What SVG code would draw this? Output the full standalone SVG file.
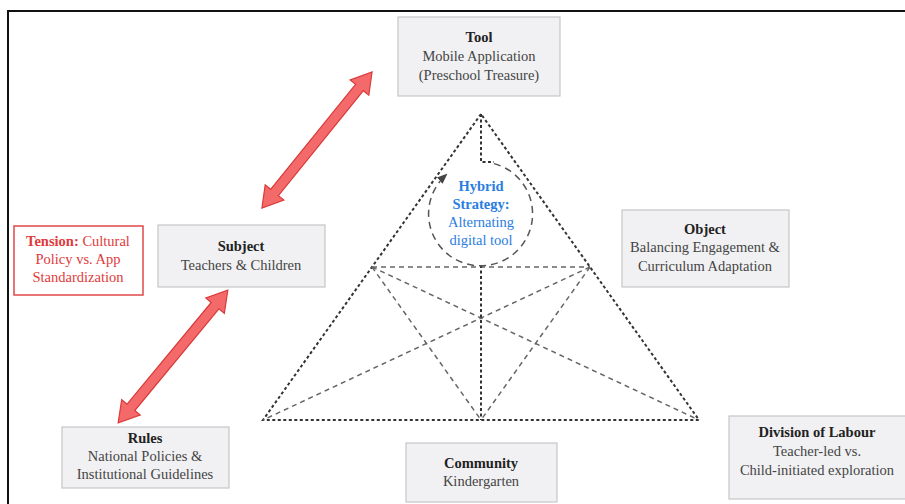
<svg xmlns="http://www.w3.org/2000/svg" width="905" height="504" viewBox="0 0 905 504">
<defs>
<style>
.box{fill:#f1f1f3;stroke:#c6c6c8;stroke-width:1.2}
.t{font-family:'Liberation Serif','DejaVu Serif',serif;font-size:14.5px;text-anchor:middle;fill:#444}
.b{font-weight:bold;fill:#222}
.red{fill:#e03a3a}
.blue{fill:#2a7de1}
.outer{fill:none;stroke:#333;stroke-width:2;stroke-dasharray:3 2.5}
.inner{fill:none;stroke:#666;stroke-width:1.5;stroke-dasharray:5 4}
.arrow{fill:#f46a6a;stroke:#d93a3a;stroke-width:1.2;stroke-linejoin:miter}
</style>
<marker id="ah" viewBox="0 0 10 10" refX="8" refY="5" markerWidth="7" markerHeight="7" orient="auto">
<path d="M0,1 L10,5 L0,9 Z" fill="#444"/>
</marker>
</defs>
<rect x="0" y="0" width="905" height="504" fill="#ffffff"/>
<rect x="8" y="11" width="910" height="510" fill="none" stroke="#111" stroke-width="2"/>

<g id="connectors">
<polygon class="outer" points="481,114 263,420 699,420"/>
<line class="inner" x1="372" y1="267" x2="590" y2="267"/>
<line class="inner" x1="372" y1="267" x2="699" y2="420"/>
<line class="inner" x1="590" y1="267" x2="263" y2="420"/>
<line class="inner" x1="372" y1="267" x2="481" y2="420"/>
<line class="inner" x1="590" y1="267" x2="481" y2="420"/>
<line class="outer" x1="481" y1="265" x2="481" y2="420" stroke="#555"/>
<polyline class="outer" points="481,114 481,162 494,162"/>
<path d="M 494 163.6 A 52 52 0 1 1 446 175" fill="none" stroke="#555" stroke-width="1.5" stroke-dasharray="7 5" marker-end="url(#ah)"/>
<polygon class="arrow" transform="translate(317,140) rotate(-51)" points="-87.5,0 -67.5,-12 -67.5,-5 67.5,-5 67.5,-12 87.5,0 67.5,12 67.5,5 -67.5,5 -67.5,12"/>
<polygon class="arrow" transform="translate(173,356.5) rotate(-50.4)" points="-86,0 -66,-12 -66,-5 66,-5 66,-12 86,0 66,12 66,5 -66,5 -66,12"/>
</g>

<g id="tool">
<rect class="box" x="398" y="17" width="162" height="79"/>
<text class="t b" x="479" y="42" font-family="Liberation Serif, serif">Tool</text>
<text class="t" x="479" y="61" font-family="Liberation Serif, serif">Mobile Application</text>
<text class="t" x="479" y="80" font-family="Liberation Serif, serif">(Preschool Treasure)</text>
</g>

<g id="hybrid" font-family="Liberation Serif, serif">
<text class="t blue" x="481" y="191" font-weight="bold">Hybrid</text>
<text class="t blue" x="481" y="209" font-weight="bold">Strategy:</text>
<text class="t blue" x="481" y="227">Alternating</text>
<text class="t blue" x="481" y="245">digital tool</text>
</g>

<g id="subject">
<rect class="box" x="158" y="225" width="167" height="62"/>
<text class="t b" x="241" y="251">Subject</text>
<text class="t" x="241" y="270">Teachers &amp; Children</text>
</g>

<g id="tension">
<rect x="14" y="226" width="129" height="69" fill="#ffffff" stroke="#e04848" stroke-width="1.5"/>
<text class="t red" x="78" y="246"><tspan font-weight="bold">Tension:</tspan> Cultural</text>
<text class="t red" x="78" y="264">Policy vs. App</text>
<text class="t red" x="78" y="282">Standardization</text>
</g>

<g id="object">
<rect class="box" x="622" y="210" width="167" height="77"/>
<text class="t b" x="705" y="234">Object</text>
<text class="t" x="705" y="252">Balancing Engagement &amp;</text>
<text class="t" x="705" y="271">Curriculum Adaptation</text>
</g>

<g id="rules">
<rect class="box" x="62" y="427" width="167" height="61"/>
<text class="t b" x="145" y="443">Rules</text>
<text class="t" x="145" y="461">National Policies &amp;</text>
<text class="t" x="145" y="479">Institutional Guidelines</text>
</g>

<g id="community">
<rect class="box" x="406" y="443" width="151" height="59"/>
<text class="t b" x="481" y="468">Community</text>
<text class="t" x="481" y="486">Kindergarten</text>
</g>

<g id="division">
<rect class="box" x="729" y="416" width="178" height="83"/>
<text class="t b" x="817" y="437">Division of Labour</text>
<text class="t" x="817" y="456">Teacher-led vs.</text>
<text class="t" x="817" y="475">Child-initiated exploration</text>
</g>
</svg>
